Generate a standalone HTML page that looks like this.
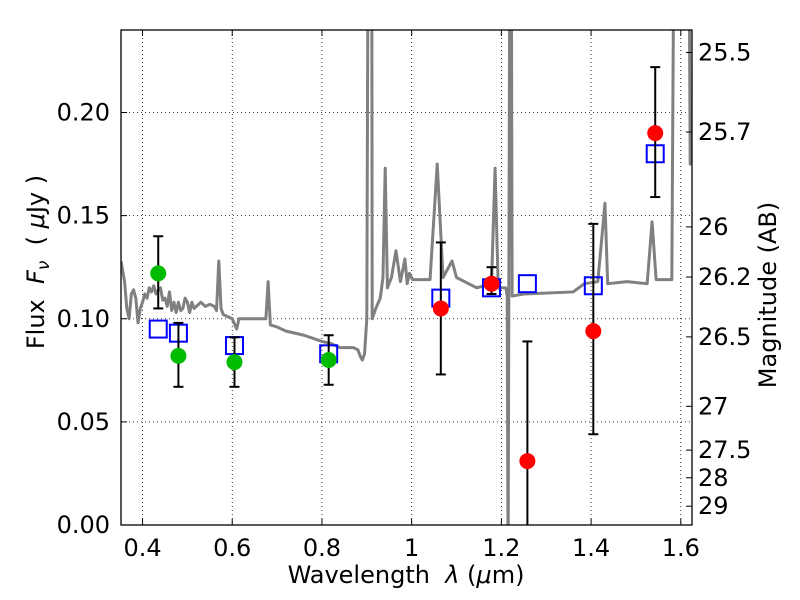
<!DOCTYPE html>
<html><head><meta charset="utf-8"><style>
body{margin:0;background:#fff}
svg{display:block;font-family:"DejaVu Sans","Liberation Sans",sans-serif}
</style></head><body>
<svg id="chart" width="800" height="600"></svg>
<script>
const greenLam=[0.435,0.48,0.605,0.815];
const greenFlux=[0.122,0.082,0.079,0.080];
const greenLo=[0.105,0.067,0.067,0.068];
const greenHi=[0.140,0.098,0.091,0.092];
const redLam=[1.065,1.178,1.258,1.405,1.543];
const redFlux=[0.105,0.117,0.031,0.094,0.190];
const redLo=[0.073,0.112,-0.01,0.044,0.159];
const redHi=[0.137,0.125,0.089,0.146,0.222];
const modelLam=[0.435,0.48,0.605,0.815,1.065,1.178,1.258,1.405,1.543];
const modelFlux=[0.095,0.093,0.087,0.083,0.110,0.115,0.117,0.116,0.180];
const xTicks=[0.4,0.6,0.8,1,1.2,1.4,1.6];
const xTickLabels=["0.4","0.6","0.8","1","1.2","1.4","1.6"];
const yTicks=[0,0.05,0.10,0.15,0.20];
const yTickLabels=["0.00","0.05","0.10","0.15","0.20"];
const magTicks=[25.5,25.7,26,26.2,26.5,27,27.5,28,29];
const magTickLabels=["25.5","25.7","26","26.2","26.5","27","27.5","28","29"];
const specLam=[0.352,0.36,0.365,0.37,0.375,0.38,0.385,0.39,0.395,0.40,0.405,0.41,0.415,0.42,0.425,0.43,0.435,0.44,0.445,0.45,0.455,0.46,0.465,0.47,0.475,0.48,0.485,0.49,0.495,0.50,0.505,0.51,0.515,0.52,0.53,0.54,0.55,0.56,0.565,0.57,0.575,0.58,0.60,0.61,0.615,0.64,0.66,0.675,0.68,0.685,0.70,0.72,0.76,0.80,0.82,0.84,0.87,0.88,0.885,0.89,0.895,0.90,0.903,0.904,0.911,0.912,0.92,0.93,0.936,0.941,0.946,0.955,0.965,0.975,0.985,0.99,0.995,1.002,1.041,1.057,1.07,1.09,1.10,1.145,1.178,1.186,1.193,1.21,1.213,1.215,1.219,1.222,1.224,1.25,1.36,1.385,1.415,1.431,1.437,1.48,1.525,1.536,1.545,1.58,1.585,1.587,1.618,1.621,1.625];
const specFlux=[0.128,0.118,0.105,0.100,0.112,0.114,0.110,0.098,0.105,0.108,0.112,0.110,0.115,0.113,0.116,0.112,0.114,0.115,0.109,0.110,0.106,0.113,0.104,0.108,0.103,0.108,0.104,0.105,0.110,0.108,0.103,0.108,0.105,0.106,0.108,0.106,0.107,0.106,0.104,0.128,0.105,0.102,0.100,0.095,0.100,0.100,0.100,0.100,0.118,0.097,0.096,0.094,0.092,0.089,0.088,0.086,0.086,0.085,0.082,0.080,0.083,0.100,0.30,0.30,0.30,0.100,0.105,0.110,0.120,0.173,0.115,0.120,0.133,0.118,0.129,0.117,0.122,0.119,0.119,0.175,0.120,0.128,0.120,0.115,0.117,0.173,0.115,0.115,0.111,-0.02,0.30,0.30,0.111,0.112,0.113,0.117,0.118,0.156,0.117,0.118,0.117,0.147,0.119,0.119,0.30,0.30,0.30,0.175,0.175];
const X0=121,X1=692,Y0=525,Y1=30,XMIN=0.352,XMAX=1.625,YMIN=0,YMAX=0.24;
const sx=v=>X0+(v-XMIN)/(XMAX-XMIN)*(X1-X0);
const sy=v=>Y0-(v-YMIN)/(YMAX-YMIN)*(Y0-Y1);
const NS="http://www.w3.org/2000/svg";
const svg=document.getElementById('chart');
function mk(t,a,p){const e=document.createElementNS(NS,t);for(const k in a)e.setAttribute(k,a[k]);(p||svg).appendChild(e);return e;}
const defs=mk('defs',{});const cp=mk('clipPath',{id:'clip'},defs);mk('rect',{x:X0,y:Y1,width:X1-X0,height:Y0-Y1},cp);
const grid=mk('g',{});
xTicks.forEach(t=>mk('line',{x1:sx(t),x2:sx(t),y1:Y1,y2:Y0,stroke:'#000','stroke-width':0.8,'stroke-dasharray':'1,3'},grid));
yTicks.forEach(t=>mk('line',{x1:X0,x2:X1,y1:sy(t),y2:sy(t),stroke:'#000','stroke-width':0.8,'stroke-dasharray':'1,3'},grid));
const plot=mk('g',{'clip-path':'url(#clip)'});
const sp=mk('polyline',{points:specLam.map((l,i)=>sx(l)+','+sy(specFlux[i])).join(' '),fill:'none',stroke:'#808080','stroke-width':3,'stroke-linejoin':'round'},plot);


modelLam.forEach((l,i)=>{const r=mk('rect',{x:sx(l)-8.5,y:sy(modelFlux[i])-8.5,width:17,height:17,fill:'none',stroke:'#0000ff','stroke-width':2},plot);

});
function pts(lam,f,lo,hi,col,nm){lam.forEach((l,i)=>{const g=mk('g',{},plot);


const x=sx(l);mk('line',{x1:x,x2:x,y1:sy(lo[i]),y2:sy(hi[i]),stroke:'#000','stroke-width':2},g);
[lo[i],hi[i]].forEach(v=>mk('line',{x1:x-5,x2:x+5,y1:sy(v),y2:sy(v),stroke:'#000','stroke-width':2},g));
mk('circle',{cx:x,cy:sy(f[i]),r:8,fill:col},g);});}
pts(greenLam,greenFlux,greenLo,greenHi,'#00bb00','hst-data-point');
pts(redLam,redFlux,redLo,redHi,'#ff0000','ir-data-point');
mk('rect',{x:X0,y:Y1,width:X1-X0,height:Y0-Y1,fill:'none',stroke:'#000','stroke-width':1.3});
xTicks.forEach((t,i)=>{mk('line',{x1:sx(t),x2:sx(t),y1:Y0,y2:Y0-6,stroke:'#000'});mk('line',{x1:sx(t),x2:sx(t),y1:Y1,y2:Y1+6,stroke:'#000'});
const tx=mk('text',{x:sx(t),y:Y0+31,'font-size':24,'text-anchor':'middle'});tx.textContent=xTickLabels[i];

});
yTicks.forEach((t,i)=>{mk('line',{x1:X0,x2:X0+6,y1:sy(t),y2:sy(t),stroke:'#000'});
const tx=mk('text',{x:X0-11,y:sy(t)+8,'font-size':24,'text-anchor':'end'});tx.textContent=yTickLabels[i];

});
magTicks.forEach((m,i)=>{const y=sy(Math.pow(10,(23.9-m)/2.5));mk('line',{x1:X1,x2:X1-6,y1:y,y2:y,stroke:'#000'});
const tx=mk('text',{x:X1+6,y:y+8,'font-size':24});tx.textContent=magTickLabels[i];

});
</script>
<svg style="position:absolute;left:0;top:0" width="800" height="600">
<text x="406" y="583" font-size="24" text-anchor="middle" font-family="DejaVu Sans,sans-serif" xml:space="preserve">Wavelength  <tspan font-style="italic">λ</tspan> (<tspan font-style="italic">μ</tspan>m)</text>
<text transform="translate(44,262) rotate(-90)" font-size="24" text-anchor="middle" font-family="DejaVu Sans,sans-serif" xml:space="preserve">Flux  <tspan font-style="italic">F</tspan><tspan font-style="italic" font-size="17" dy="5">ν</tspan><tspan dy="-5">  ( </tspan><tspan font-style="italic">μ</tspan>Jy )</text>
<text transform="translate(776,295) rotate(-90)" font-size="24" text-anchor="middle" font-family="DejaVu Sans,sans-serif">Magnitude (AB)</text>
</svg>
</body></html>
